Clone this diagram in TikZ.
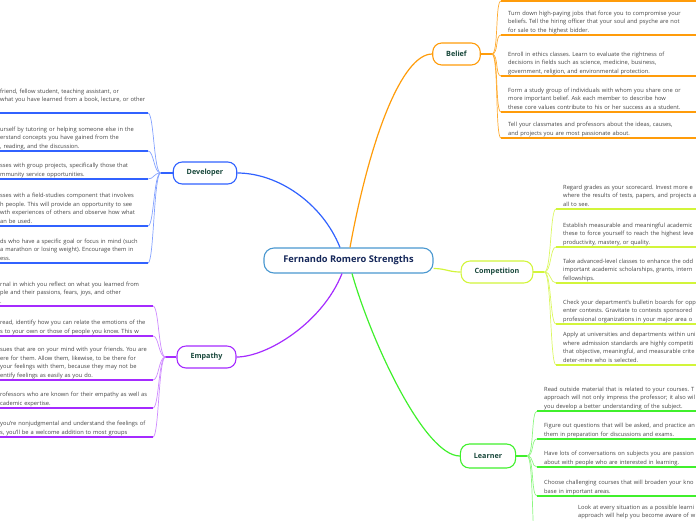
\documentclass[tikz,border=0pt]{standalone}
\usepackage{fontspec}
\setmainfont{Open Sans}
\frenchspacing
\usetikzlibrary{positioning}
\definecolor{rootc}{HTML}{4A98D0}
\definecolor{roottext}{HTML}{16285A}
\definecolor{branchtext}{HTML}{17473A}
\definecolor{topictext}{HTML}{444444}
\definecolor{beliefc}{HTML}{FF9C0A}
\definecolor{devc}{HTML}{3162FF}
\definecolor{empc}{HTML}{A52BFF}
\definecolor{compc}{HTML}{D2F53A}
\definecolor{learnc}{HTML}{40F02C}
\tikzstyle{root} = [rectangle, rounded corners=10pt, draw=rootc, line width=1.1pt, fill=white, minimum width=169pt, minimum height=25pt, font=\fontsize{9.3}{11}\selectfont\bfseries, text=roottext]
\tikzstyle{branch} = [rectangle, rounded corners=9pt, line width=1.1pt, fill=white, minimum height=22pt, inner xsep=13.5pt, font=\fontsize{7.2}{9}\selectfont\bfseries, text=branchtext]
\tikzstyle{topic} = [inner ysep=0pt, align=left, font=\fontsize{5.75}{8.5}\selectfont, text=topictext, execute at end node=\strut]
\tikzstyle{rtopic} = [topic, anchor=south west, text width=200pt, inner xsep=7pt]
\tikzstyle{ltopic} = [topic, anchor=south west, text width=170pt, inner xsep=4pt]
\tikzstyle{main} = [line width=1.2pt]
\tikzstyle{bar} = [line width=1.4pt]
\tikzstyle{sub} = [line width=0.7pt]

\begin{document}
\begin{tikzpicture}[x=1pt, y=-1pt]
  \useasboundingbox (0,0) rectangle (696,520);
  \clip (0,0) rectangle (696,520);

  \node[root] (root) at (348.5,260.5) {Fernando Romero Strengths};
  \node[branch, draw=beliefc] (belief) at (456.5,54) {Belief};
  \node[branch, draw=devc] (dev) at (205,173) {Developer};
  \node[branch, draw=empc] (emp) at (206.5,357) {Empathy};
  \node[branch, draw=compc] (comp) at (497,272) {Competition};
  \node[branch, draw=learnc, minimum height=24pt] (learn) at (488,456) {Learner};

  \draw[main, beliefc] ([xshift=1.5pt]root.north) .. controls +(20,-110) and +(-30,0) .. (belief.west);
  \draw[main, devc] ([xshift=-8.5pt]root.north) .. controls +(-18,-45) and +(40,0) .. (dev.east);
  \draw[main, empc] ([xshift=-6.5pt]root.south) .. controls +(-20,50) and +(30,0) .. (emp.east);
  \draw[main, learnc] ([xshift=3.5pt]root.south) .. controls +(20,70) and +(-35,0) .. (learn.west);
  \draw[main, compc] ([yshift=-8pt]root.east) .. controls +(12,0) and +(-12,0) .. (comp.west);

  \coordinate[right=11pt of belief] (bj);
  \coordinate[left=12pt of dev] (dj);
  \coordinate[left=11pt of emp] (ej);
  \coordinate[right=11pt of comp] (cj);
  \coordinate[right=11pt of learn] (lj);
  \coordinate (devx) at (148,0);
  \coordinate (empx) at (153,0);

  % Belief
  \coordinate (b0c) at (501,1);
  \node[rtopic] (b1) at (501,35) {Turn down high-paying jobs that force you to compromise your\\beliefs. Tell the hiring officer that your soul and psyche are not\\for sale to the highest bidder.};
  \node[rtopic] (b2) at (501,76) {Enroll in ethics classes. Learn to evaluate the rightness of\\decisions in fields such as science, medicine, business,\\government, religion, and environmental protection.};
  \node[rtopic] (b3) at (501,112) {Form a study group of individuals with whom you share one or\\more important belief. Ask each member to describe how\\these core values contribute to his or her success as a student.};
  \node[rtopic] (b4) at (501,138) {Tell your classmates and professors about the ideas, causes,\\and projects you are most passionate about.};
  \draw[bar, beliefc] (belief) -- (bj);
  \draw[sub, beliefc!85] (bj) .. controls +(7,0) and +(-6,0) .. (b0c);
  \draw[bar, beliefc] (b0c) -- ++(200,0);
  \foreach \t in {b1,b2,b3,b4} {
    \draw[sub, beliefc!85] (bj) .. controls +(7,0) and +(-6,0) .. (\t.south west);
    \draw[bar, beliefc] (\t.south west) -- (\t.south east);
  }

  % Developer
  \node[ltopic] (d1) at (-4,113) {friend, fellow student, teaching assistant, or\\what you have learned from a book, lecture, or other\\};
  \node[ltopic] (d2) at (-4,151) {urself by tutoring or helping someone else in the\\erstand concepts you have gained from the\\, reading, and the discussion.};
  \node[ltopic] (d3) at (-4,179) {sses with group projects, specifically those that\\mmunity service opportunities.};
  \node[ltopic] (d4) at (-4,226) {sses with a field-studies component that involves\\h people. This will provide an opportunity to see\\wth experiences of others and observe how what\\an be used.};
  \node[ltopic] (d5) at (-4,263) {ds who have a specific goal or focus in mind (such\\a marathon or losing weight). Encourage them in\\ess.};
  \draw[bar, devc] (dev) -- (dj);
  \foreach \t in {d1,d2,d3,d4,d5} {
    \draw[sub, devc!60] (dj) .. controls +(-7,0) and +(6,0) .. (\t.south west -| devx);
    \draw[bar, devc] (\t.south west) -- (\t.south west -| devx);
  }

  % Empathy
  \node[ltopic] (e1) at (-4,306) {rnal in which you reflect on what you learned from\\ple and their passions, fears, joys, and other\\.};
  \node[ltopic] (e2) at (-4,336) {read, identify how you can relate the emotions of the\\s to your own or those of people you know. This w};
  \node[ltopic] (e3) at (-4,380) {sues that are on your mind with your friends. You are\\ere for them. Allow them, likewise, to be there for\\your feelings with them, because they may not be\\entify feelings as easily as you do.};
  \node[ltopic] (e4) at (-4,408) {rofessors who are known for their empathy as well as\\cademic expertise.};
  \node[ltopic] (e5) at (-4,437) {you're nonjudgmental and understand the feelings of\\s, you'll be a welcome addition to most groups};
  \draw[bar, empc] (emp) -- (ej);
  \foreach \t in {e1,e2,e3,e4,e5} {
    \draw[sub, empc!55] (ej) .. controls +(-7,0) and +(6,0) .. (\t.south west -| empx);
    \draw[bar, empc] (\t.south west) -- (\t.south west -| empx);
  }

  % Competition
  \node[rtopic] (c1) at (556,209) {Regard grades as your scorecard. Invest more e\\where the results of tests, papers, and projects a\\all to see.};
  \node[rtopic] (c2) at (556,247) {Establish measurable and meaningful academic\\these to force yourself to reach the highest leve\\productivity, mastery, or quality.};
  \node[rtopic] (c3) at (556,283) {Take advanced-level classes to enhance the odd\\important academic scholarships, grants, intern\\fellowships.};
  \node[rtopic] (c4) at (556,324) {Check your department's bulletin boards for opp\\enter contests. Gravitate to contests sponsored\\professional organizations in your major area o};
  \node[rtopic] (c5) at (556,365) {Apply at universities and departments within uni\\where admission standards are highly competiti\\that objective, meaningful, and measurable crite\\deter-mine who is selected.};
  \draw[bar, compc] (comp) -- (cj);
  \foreach \t in {c1,c2,c3,c4,c5} {
    \draw[sub, compc!80] (cj) .. controls +(7,0) and +(-6,0) .. (\t.south west);
    \draw[bar, compc] (\t.south west) -- (\t.south east);
  }

  % Learner
  \node[rtopic] (l1) at (537,411) {Read outside material that is related to your courses. T\\approach will not only impress the professor; it also wil\\you develop a better understanding of the subject.};
  \node[rtopic] (l2) at (537,439) {Figure out questions that will be asked, and practice an\\them in preparation for discussions and exams.};
  \node[rtopic] (l3) at (537,467) {Have lots of conversations on subjects you are passion\\about with people who are interested in learning.};
  \node[rtopic] (l4) at (537,496) {Choose challenging courses that will broaden your kno\\base in important areas.};
  \node[rtopic, anchor=base west] (l5) at (571,509) {Look at every situation as a possible learni\\approach will help you become aware of w};
  \coordinate (l5c) at (537,550);
  \draw[bar, learnc] (learn) -- (lj);
  \draw[sub, learnc!60] (lj) .. controls +(7,0) and +(-6,0) .. (l5c);
  \foreach \t in {l1,l2,l3,l4} {
    \draw[sub, learnc!60] (lj) .. controls +(7,0) and +(-6,0) .. (\t.south west);
    \draw[bar, learnc] (\t.south west) -- (\t.south east);
  }
\end{tikzpicture}
\end{document}
